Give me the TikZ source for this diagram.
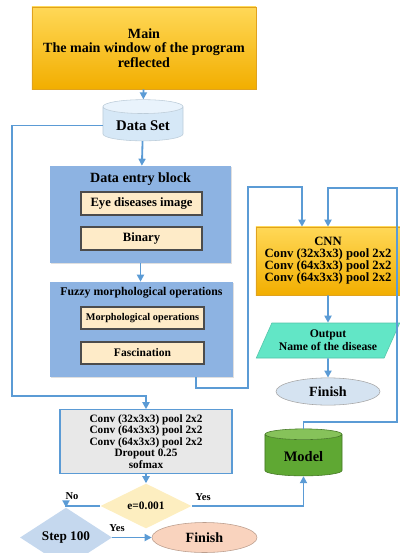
\documentclass[tikz,border=0pt]{standalone}
\usepackage{fontspec}
\setmainfont{Liberation Serif}
\usetikzlibrary{shapes.geometric,arrows.meta,shadows}

\definecolor{flowblue}{HTML}{5B9BD5}
\definecolor{goldlight}{HTML}{FFD857}
\definecolor{golddark}{HTML}{F2AE00}
\definecolor{goldedge}{HTML}{E0A21E}
\definecolor{blockblue}{HTML}{8DB3E2}
\definecolor{cream}{HTML}{FEEBC8}
\definecolor{dsbody}{HTML}{D6E8F7}
\definecolor{dstop}{HTML}{E9F3FC}
\definecolor{aqua}{HTML}{62E6C6}
\definecolor{finblue}{HTML}{D5E3F1}
\definecolor{convgray}{HTML}{E8E8E8}
\definecolor{lightyellow}{HTML}{FDEEC0}
\definecolor{stepblue}{HTML}{C5D8EE}
\definecolor{peach}{HTML}{F9D3BE}
\definecolor{modelgreen}{HTML}{5FA833}
\definecolor{modeltop}{HTML}{86C25A}

\tikzset{
  flow/.style={draw=flowblue, line width=1.3pt, -{Triangle[length=5pt,width=5pt]}},
  goldbox/.style={rectangle, draw=goldedge, top color=goldlight, bottom color=golddark,
    align=center, drop shadow={opacity=0.25,shadow xshift=1pt,shadow yshift=-1pt}},
  block/.style={rectangle, fill=blockblue,
    drop shadow={opacity=0.25,shadow xshift=1pt,shadow yshift=-1pt}},
  innerbox/.style={rectangle, draw=black!70, fill=cream, line width=0.8pt},
  tank/.style={cylinder, shape border rotate=90, aspect=0.22, cylinder uses custom fill},
  lbl/.style={font=\bfseries\fontsize{7.5}{8}\selectfont}
}

\begin{document}
\begin{tikzpicture}[x=0.025cm,y=-0.025cm]
\useasboundingbox (0,0) rectangle (400,553);

% top of the program
\node[goldbox, minimum width=5.6cm, minimum height=2.05cm,
  font=\bfseries\fontsize{10}{10.5}\selectfont] (main) at (144,48)
  {Main\\The main window of the program\\reflected};
\node[tank, draw=dsbody!70!black!40!dsbody, cylinder body fill=dsbody, cylinder end fill=dstop,
  minimum width=2cm, minimum height=1.03cm,
  font=\bfseries\fontsize{10.5}{11}\selectfont] (data) at (143,125.5) {Data Set};

% data entry block
\node[block, minimum width=4.525cm, minimum height=2.425cm] (entry) at (140.5,214.5) {};
\node[font=\bfseries\fontsize{10}{11}\selectfont] (entrytitle) at (140.5,179) {Data entry block};
\node[innerbox, minimum width=3.025cm, minimum height=0.575cm,
  font=\bfseries\fontsize{9}{10}\selectfont] (eye) at (141.5,203.5) {Eye diseases image};
\node[innerbox, minimum width=3.025cm, minimum height=0.575cm,
  font=\bfseries\fontsize{9}{10}\selectfont] (binary) at (141.5,238.5) {Binary};

% fuzzy block
\node[block, minimum width=4.575cm, minimum height=2.375cm] (fuzzy) at (141.5,329.5) {};
\node[font=\bfseries\fontsize{8.4}{9}\selectfont] (fuzzytitle) at (141.5,293)
  {Fuzzy morphological operations};
\node[innerbox, minimum width=3.075cm, minimum height=0.55cm,
  font=\bfseries\fontsize{7.3}{8}\selectfont] (morph) at (142.5,318) {Morphological operations};
\node[innerbox, minimum width=3.075cm, minimum height=0.55cm,
  font=\bfseries\fontsize{8.2}{9}\selectfont] (fasc) at (142.5,353) {Fascination};

% right column
\node[goldbox, minimum width=3.6cm, minimum height=1.7cm,
  font=\bfseries\fontsize{9}{8.6}\selectfont] (cnn) at (328,261)
  {CNN\\Conv (32x3x3) pool 2x2\\Conv (64x3x3) pool 2x2\\Conv (64x3x3) pool 2x2};
\node[trapezium, trapezium left angle=64, trapezium right angle=116, trapezium stretches=true,
  fill=aqua, draw=aqua!85!black, minimum width=3.6cm, minimum height=0.875cm, align=center,
  font=\bfseries\fontsize{8.3}{9.5}\selectfont] (out) at (328,340.5)
  {Output\\Name of the disease};
\node[ellipse, fill=finblue, draw=black!35, minimum width=2.6cm, minimum height=0.675cm,
  font=\bfseries\fontsize{10}{11}\selectfont] (fin1) at (328,391.5) {Finish};

% training part
\node[rectangle, draw=flowblue, fill=convgray, line width=0.8pt, minimum width=4.3cm,
  minimum height=1.525cm, align=center, font=\bfseries\fontsize{8}{8.2}\selectfont] (conv) at (146,441.5)
  {Conv (32x3x3) pool 2x2\\Conv (64x3x3) pool 2x2\\Conv (64x3x3) pool 2x2\\Dropout 0.25\\sofmax};
\node[diamond, fill=lightyellow, inner sep=0pt, minimum width=2.275cm, minimum height=0.8cm,
  font=\bfseries\fontsize{8.1}{9}\selectfont] (err) at (146,506) {e=0.001};
\node[diamond, fill=stepblue, inner sep=0pt, minimum width=2.3cm, minimum height=0.8cm,
  font=\bfseries\fontsize{9.4}{10}\selectfont] (step) at (66,537.5) {Step 100};
\node[ellipse, fill=peach, draw=peach!75!black, minimum width=2.625cm, minimum height=0.75cm,
  font=\bfseries\fontsize{10}{11}\selectfont] (fin2) at (204.5,537.5) {Finish};
\node[tank, draw=modelgreen!70!black, cylinder body fill=modelgreen, cylinder end fill=modeltop,
  minimum width=1.925cm, minimum height=1.175cm,
  font=\bfseries\fontsize{10.3}{11}\selectfont] (model) at (303.5,456.5) {Model};

\node[lbl] (no) at (72,496) {No};
\node[lbl] (yes1) at (203,497) {Yes};
\node[lbl] (yes2) at (117,528) {Yes};

% bend points
\coordinate (fzdrop) at (196,377);
\coordinate (fzturn) at (248,388);
\coordinate (cnnleft) at (302,187);
\coordinate (mdturn) at (397,422);
\coordinate (cnnright) at (328,188);
\coordinate (dsturn) at (12,396);

% connectors
\draw[flow] (main) -- (data);
\draw[flow] (data) -- (entry);
\draw[flow] (entry.south) -- (entry.south |- fuzzy.north);
\draw[flow] (data.west) -| (dsturn) -| (conv.north);
\draw[flow] (fuzzy.south -| fzdrop) |- (fzturn) |- (cnnleft) -- (cnnleft |- cnn.north);
\draw[flow] (model.north) |- (mdturn) |- (cnnright) -- (cnnright |- cnn.north);
\draw[flow] (cnn) -- (out);
\draw[flow] (out) -- (fin1);
\draw[flow] (conv) -- (err);
\draw[flow] (err.west) -| (step.north);
\draw[flow] (err.east) -| (model.south);
\draw[flow] (step) -- (fin2);
\end{tikzpicture}
\end{document}
